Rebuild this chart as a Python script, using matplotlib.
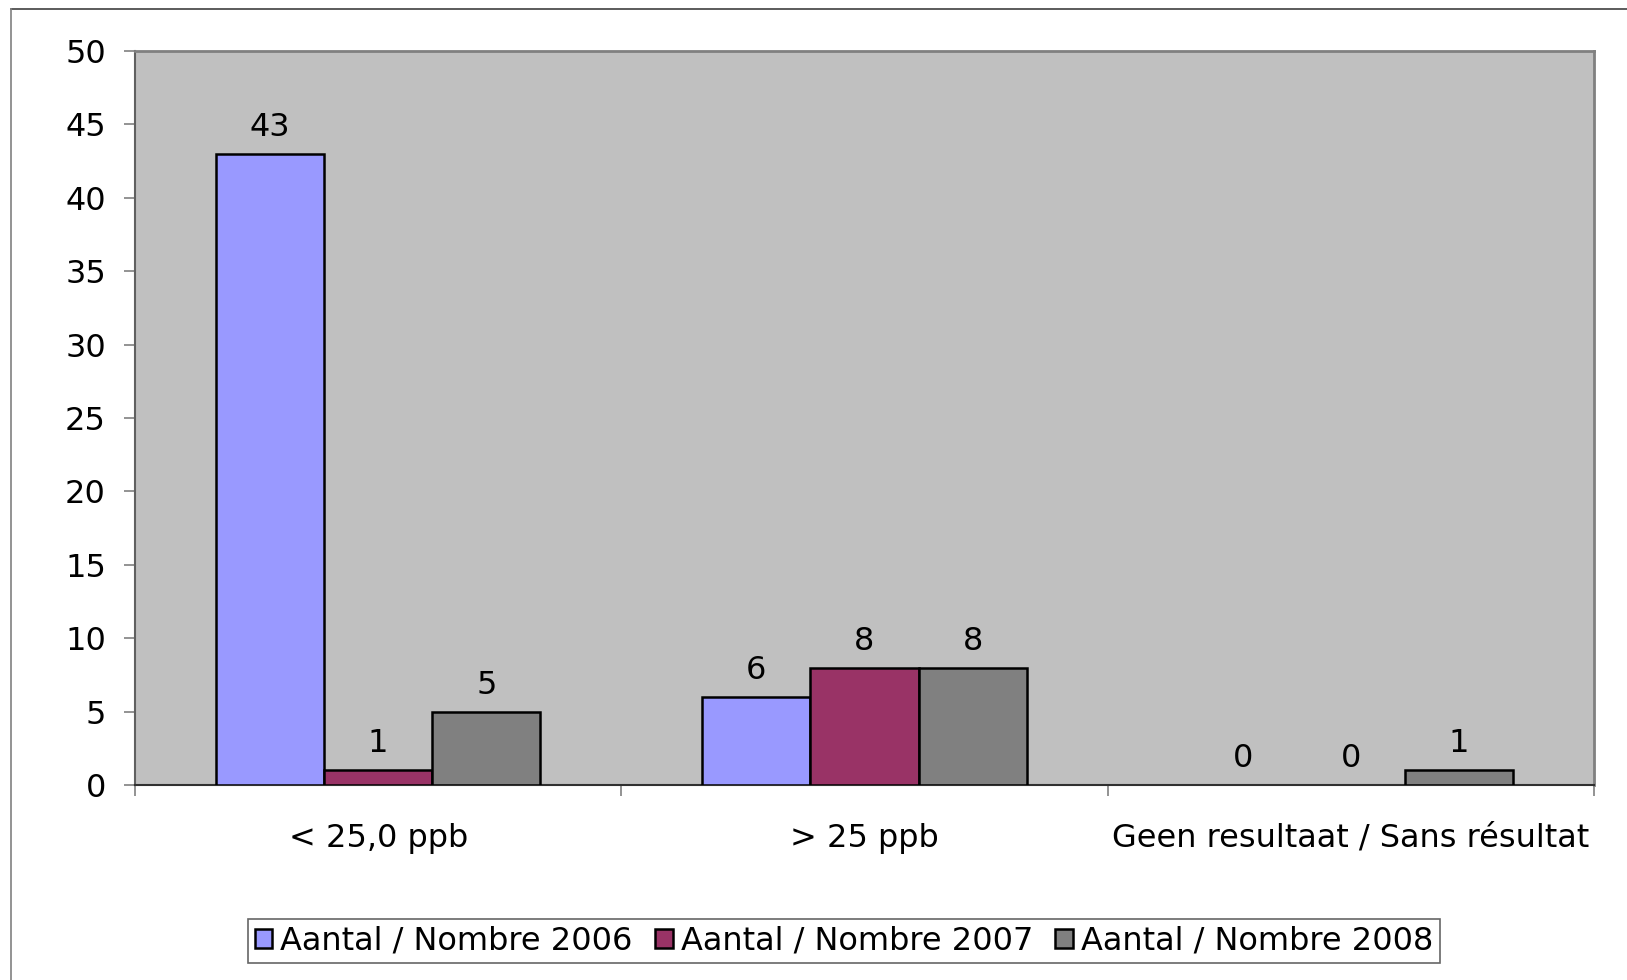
import numpy as np
import matplotlib
matplotlib.use("Agg")
import matplotlib.pyplot as plt
from matplotlib.lines import Line2D

categories = ["< 25,0 ppb", "> 25 ppb", "Geen resultaat / Sans résultat"]
series_names = ["Aantal / Nombre 2006", "Aantal / Nombre 2007", "Aantal / Nombre 2008"]
values_2006 = [43, 6, 0]
values_2007 = [1, 8, 0]
values_2008 = [5, 8, 1]
colors = ["#9999FF", "#993366", "#808080"]

plt.rcParams["font.family"] = ["DejaVu Sans"]
fs = 23

fig = plt.figure(figsize=(16.27, 9.80), dpi=100)
ax = fig.add_axes([135 / 1627, 1 - 785 / 980, (1594 - 135) / 1627, (785 - 51) / 980])
ax.set_facecolor("#C0C0C0")

# chart border (only top and left visible in reference)
fig.add_artist(Line2D([11 / 1627, 1.0], [1 - 9.5 / 980] * 2, color="#404040", lw=1.2))
fig.add_artist(Line2D([11 / 1627] * 2, [0.0, 1 - 9.5 / 980], color="#808080", lw=1.2))

x = np.arange(len(categories))
w = 1 / 4.5
for i, (vals, name, col) in enumerate(zip([values_2006, values_2007, values_2008], series_names, colors)):
    pos = x + (i - 1) * w
    lws = [1.8 if v else 0 for v in vals]
    ax.bar(pos, vals, width=w, color=col, edgecolor="black", linewidth=lws, label=name, zorder=3)
    for px, v in zip(pos, vals):
        ax.annotate(str(v), (px, v), xytext=(0, 13), textcoords="offset points",
                    ha="center", va="baseline", fontsize=fs)

ax.set_xlim(-0.5, 2.5)
ax.set_ylim(0, 50)
ax.set_yticks(np.arange(0, 51, 5))
ax.tick_params(axis="y", labelsize=fs, length=8, width=1.2, color="#808080", pad=13)
ax.set_xticks(x)
ax.set_xticklabels(categories)
ax.tick_params(axis="x", which="major", length=0, labelsize=fs, pad=27)
ax.set_xticks([-0.5, 0.5, 1.5, 2.5], minor=True)
ax.tick_params(axis="x", which="minor", length=8, width=1.2, color="#808080")

for s in ["top", "right", "left"]:
    ax.spines[s].set_color("#808080")
    ax.spines[s].set_linewidth(2)
ax.spines["left"].set_color("#606060")
ax.spines["left"].set_linewidth(1.5)
ax.spines["bottom"].set_color("#303030")
ax.spines["bottom"].set_linewidth(1.5)

leg = fig.legend(loc="center", bbox_to_anchor=(844 / 1627, 1 - 941 / 980), ncol=3,
                 fontsize=fs, frameon=True, fancybox=False, handlelength=0.55,
                 handleheight=0.55, handletextpad=0.25, columnspacing=0.7,
                 borderpad=0.2, borderaxespad=0)
leg.get_frame().set_edgecolor("#404040")
leg.get_frame().set_linewidth(1.2)

fig.savefig("out.png", dpi=100)
